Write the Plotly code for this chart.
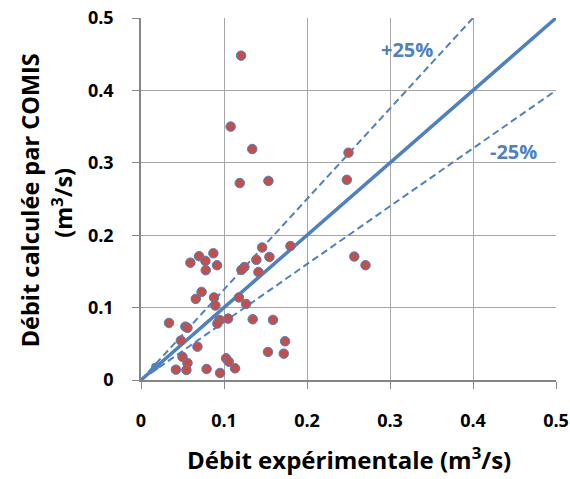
import plotly.graph_objects as go

# Experimental flow (x) and COMIS computed flow (y), m3/s
x_exp = [0.1206, 0.108, 0.134, 0.250, 0.119, 0.1535, 0.248, 0.146, 0.180, 0.0872,
         0.070, 0.0595, 0.0776, 0.0916, 0.078, 0.139, 0.1547, 0.1246, 0.121, 0.1415,
         0.257, 0.2705, 0.073, 0.066, 0.088, 0.0896, 0.118, 0.1266, 0.0338, 0.0535,
         0.056, 0.0945, 0.092, 0.105, 0.1346, 0.159, 0.048, 0.068, 0.1736, 0.153,
         0.172, 0.050, 0.056, 0.042, 0.0547, 0.079, 0.0953, 0.1025, 0.1057, 0.1133]
y_comis = [0.448, 0.350, 0.319, 0.314, 0.272, 0.275, 0.2765, 0.183, 0.185, 0.175,
           0.171, 0.162, 0.1645, 0.1585, 0.1516, 0.166, 0.170, 0.156, 0.152, 0.149,
           0.1705, 0.1585, 0.1217, 0.112, 0.114, 0.1028, 0.114, 0.105, 0.0788, 0.0737,
           0.072, 0.083, 0.078, 0.0848, 0.0839, 0.083, 0.0544, 0.046, 0.0535, 0.0387,
           0.0364, 0.032, 0.0235, 0.0143, 0.0138, 0.0152, 0.0097, 0.030, 0.0253, 0.0161]
x_extra = [0.0169]
y_extra = [0.0184]

ref_x = [0, 0.5]
ref_y = [0, 0.5]
plus_x = [0, 0.4]
plus_y = [0, 0.5]
minus_x = [0, 0.5]
minus_y = [0, 0.4]

tick_vals = [0, 0.1, 0.2, 0.3, 0.4, 0.5]
tick_text = ["0", "0.1", "0.2", "0.3", "0.4", "0.5"]

BLUE = "#4F81BD"
RED = "#C0504D"
FONT = "Open Sans"

fig = go.Figure()
fig.add_trace(go.Scatter(x=plus_x, y=plus_y, mode="lines",
                         line=dict(color=BLUE, width=2, dash="7px,4px"), showlegend=False))
fig.add_trace(go.Scatter(x=minus_x, y=minus_y, mode="lines",
                         line=dict(color=BLUE, width=2, dash="7px,4px"), showlegend=False))
fig.add_trace(go.Scatter(x=ref_x, y=ref_y, mode="lines",
                         line=dict(color=BLUE, width=3.5), showlegend=False))
fig.add_trace(go.Scatter(x=x_extra, y=y_extra, mode="markers",
                         marker=dict(color=BLUE, size=7, line=dict(color=BLUE, width=1)),
                         showlegend=False))
fig.add_trace(go.Scatter(x=x_exp, y=y_comis, mode="markers",
                         marker=dict(color=RED, size=9.5, line=dict(color=BLUE, width=1)),
                         showlegend=False))

fig.add_annotation(x=0.321, y=0.456, text="<b>+25%</b>", showarrow=False,
                   font=dict(family=FONT, size=20, color=BLUE))
fig.add_annotation(x=0.449, y=0.315, text="<b>-25%</b>", showarrow=False,
                   font=dict(family=FONT, size=20, color=BLUE))
fig.add_annotation(xref="paper", yref="paper", x=-0.267, y=0.497,
                   xanchor="center", yanchor="middle",
                   text="<b>Débit calculée par COMIS</b>",
                   textangle=-90, showarrow=False,
                   font=dict(family=FONT, size=23.5, color="black"))
fig.add_annotation(xref="paper", yref="paper", x=-0.19, y=0.49,
                   xanchor="center", yanchor="middle",
                   text="<b>(m<sup>3</sup>/s)</b>",
                   textangle=-90, showarrow=False,
                   font=dict(family=FONT, size=23.5, color="black"))
fig.add_annotation(xref="paper", yref="paper", x=0.5, y=-0.216,
                   text="<b>Débit expérimentale (m<sup>3</sup>/s)</b>",
                   showarrow=False, yanchor="middle",
                   font=dict(family=FONT, size=24, color="black"))

axis_common = dict(range=[0, 0.5], tickvals=tick_vals, ticktext=tick_text,
                   showgrid=True, gridcolor="#A6A6A6", gridwidth=1,
                   showline=True, linecolor="#868686", linewidth=1.5,
                   ticks="outside", ticklen=7, tickcolor="#868686",
                   zeroline=False, mirror=False, automargin=False,
                   ticklabeloverflow="allow",
                   tickfont=dict(family=FONT, size=18, color="black", weight="bold"))

fig.update_xaxes(**axis_common, ticklabelstandoff=17)
fig.update_yaxes(**axis_common, ticklabelstandoff=15)

fig.update_layout(width=570, height=479,
                  margin=dict(l=141, r=14, t=18, b=99),
                  plot_bgcolor="white", paper_bgcolor="white")

fig.write_html("out.html", config={"displayModeBar": False},
               post_script="document.body.style.margin='0';document.body.style.overflow='hidden';")
